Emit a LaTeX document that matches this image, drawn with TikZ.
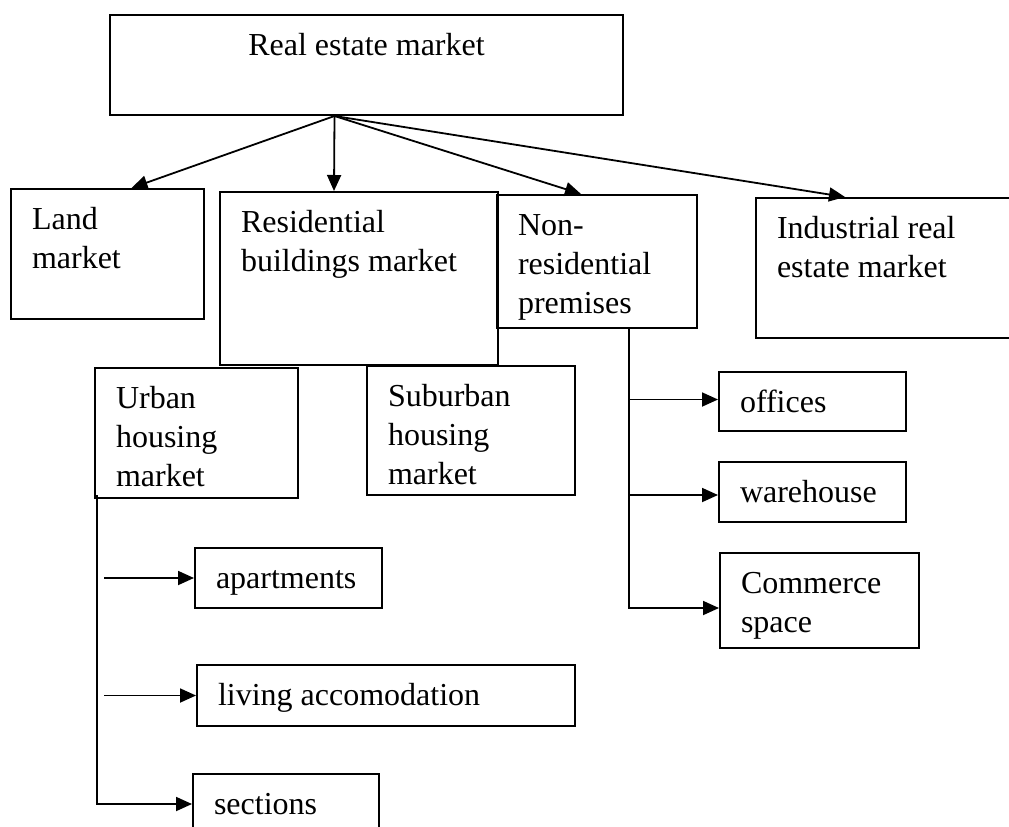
\documentclass[tikz,border=0pt]{standalone}
\usepackage{fontspec}
\setmainfont{Liberation Serif}
\usetikzlibrary{arrows.meta,calc}

\newcommand{\boxtxt}[4][\raggedright\leftskip=21pt]{%
  \parbox[t][#3pt][t]{#2pt}{#1\rule{0pt}{40pt}#4}}

\begin{document}
\begin{tikzpicture}[x=1pt, y=-1pt,
    mbox/.style={draw, line width=2pt, inner sep=0pt, anchor=north west},
    arr/.style={line width=1.8pt, -{Triangle[length=16pt,width=14pt]}},
    every node/.style={font=\fontsize{32}{39}\selectfont}]
    \useasboundingbox (0,0) rectangle (1009,827);

    % Nodes
    \node [mbox] (title) at (109,14) {\boxtxt[\centering]{513}{100}{Real estate market}};
    \node [mbox] (land) at (10,188) {\boxtxt{193}{130}{Land\\market}};
    \node [mbox] (resid) at (219,191) {\boxtxt{278}{173}{Residential\\buildings market}};
    \node [mbox] (nonres) at (496,194) {\boxtxt{200}{133}{Non-\\residential\\premises}};
    \node [mbox] (indus) at (755,197) {\boxtxt{262}{140}{Industrial real\\estate market}};
    \node [mbox] (urban) at (94,367) {\boxtxt{203}{130}{Urban\\housing\\market}};
    \node [mbox] (suburban) at (366,365) {\boxtxt{208}{129}{Suburban\\housing\\market}};
    \node [mbox] (apart) at (194,547) {\boxtxt{187}{60}{apartments}};
    \node [mbox] (living) at (196,664) {\boxtxt{378}{61}{living accomodation}};
    \node [mbox] (sections) at (192,773) {\boxtxt{186}{60}{sections}};
    \node [mbox] (offices) at (718,371) {\boxtxt{187}{59}{offices}};
    \node [mbox] (warehouse) at (718,461) {\boxtxt{187}{60}{warehouse}};
    \node [mbox] (commerce) at (719,552) {\boxtxt{199}{95}{Commerce\\space}};

    % Branch points
    \coordinate (hub) at ([xshift=-32pt]title.south);
    \coordinate (ut) at ([shift={(3pt,4pt)}]urban.south west);
    \coordinate (nt) at ([xshift=32pt]nonres.south);
    \coordinate (ofin) at ([yshift=2pt]offices.west);
    \coordinate (whin) at ([yshift=-3pt]warehouse.west);
    \coordinate (cmin) at ([yshift=-7.5pt]commerce.west);

    % Path
    \draw [arr] (hub) -- ([xshift=24pt]land.north);
    \draw [arr] (hub) -- ([xshift=-25pt]resid.north);
    \draw [arr] (hub) -- ([xshift=-16pt]nonres.north);
    \draw [arr] (hub) -- ([xshift=-42pt]indus.north);

    \draw [arr] (ut) |- (sections.west);
    \draw [arr] ([xshift=-90pt]apart.west) -- (apart.west);
    \draw [arr] ([xshift=-92pt]living.west) -- (living.west);

    \draw [arr] (nt) |- (cmin);
    \draw [arr] (nt |- ofin) -- (ofin);
    \draw [arr] (nt |- whin) -- (whin);
\end{tikzpicture}
\end{document}
